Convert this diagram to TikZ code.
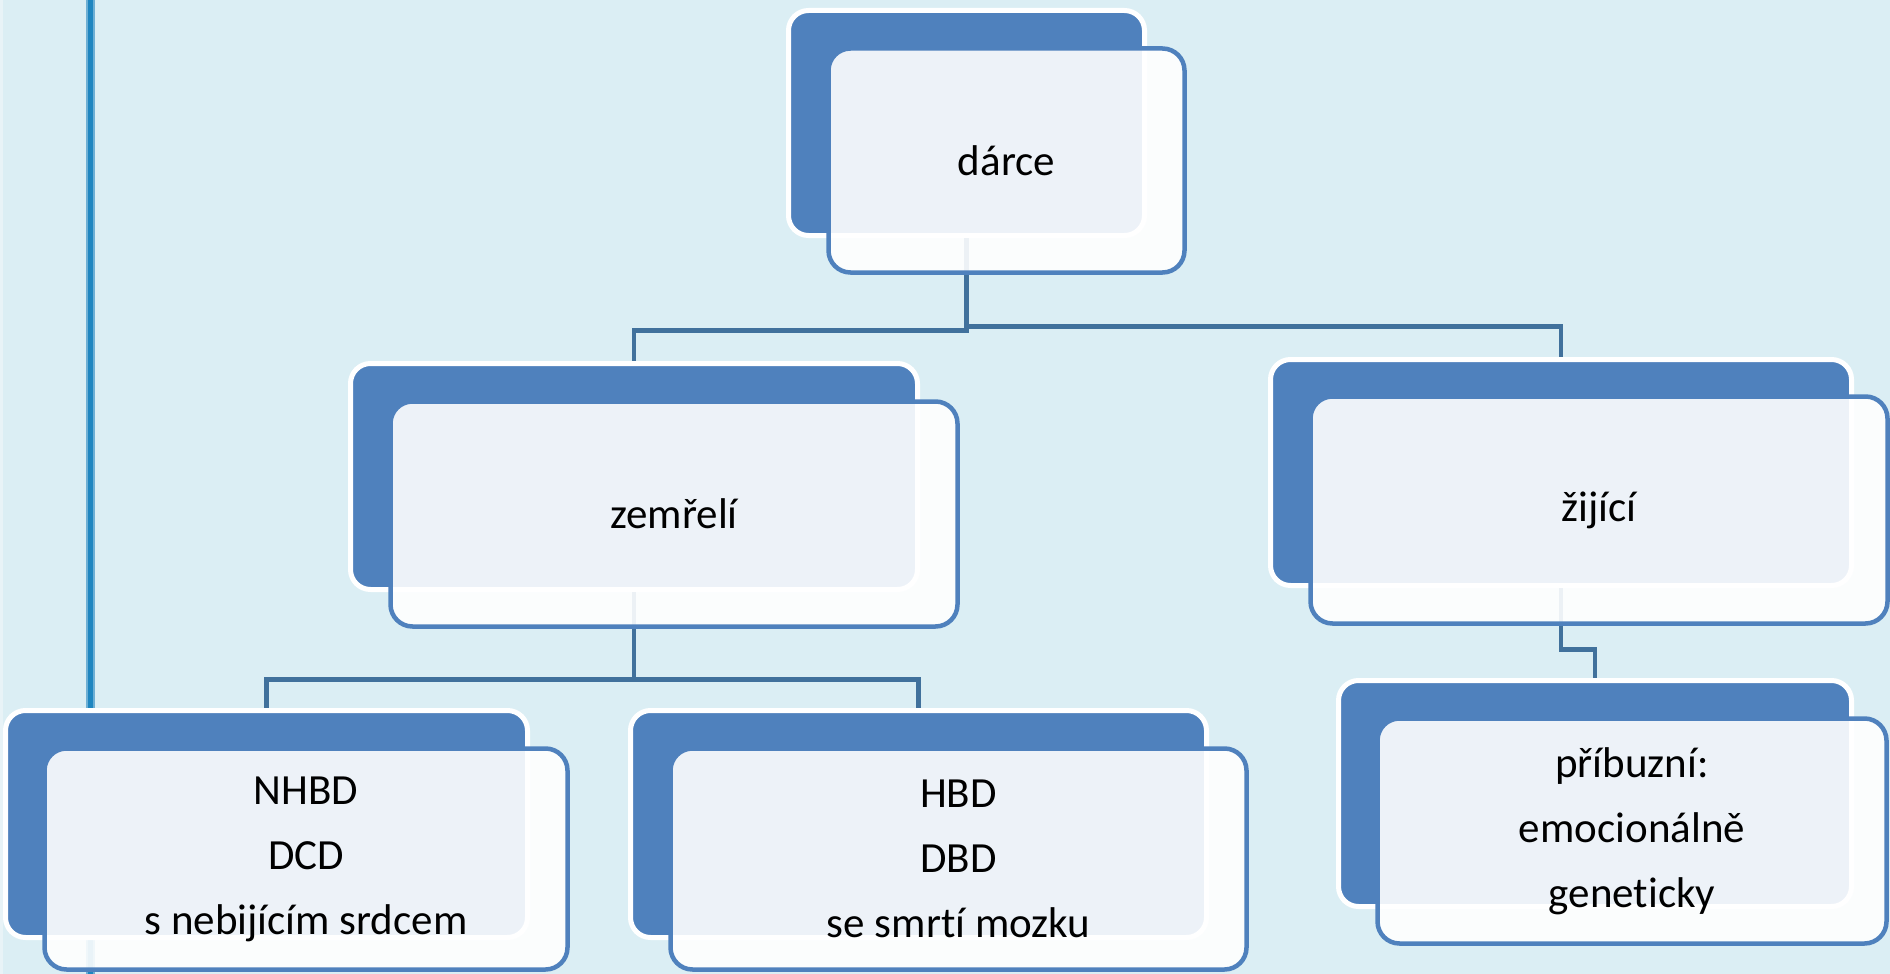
\documentclass[tikz,border=0pt]{standalone}
\usepackage{fontspec}
\setmainfont[Ligatures=NoCommon]{Carlito}
\definecolor{bgc}{RGB}{219,238,244}
\definecolor{bgedge}{RGB}{232,243,247}
\definecolor{dark}{RGB}{79,129,189}
\definecolor{conn}{RGB}{65,113,156}
\definecolor{rulecore}{RGB}{31,134,192}
\definecolor{ruleedge}{RGB}{110,175,212}
\tikzset{
  backbox/.style={rectangle, rounded corners=20pt, fill=dark, draw=white, line width=5pt, inner sep=0pt},
  frontbox/.style={rectangle, rounded corners=22pt, fill=white, fill opacity=0.9, draw opacity=1, text opacity=1,
    draw=dark, line width=4.5pt, inner sep=0pt, align=center, text=black, font=\fontsize{43}{65}\selectfont},
  link/.style={draw=conn, line width=4.5pt}
}
\begin{document}
\begin{tikzpicture}[x=1pt,y=-1pt]
\useasboundingbox (0,0) rectangle (1890,974);
\fill[bgc] (0,0) rectangle (1890,974);
\fill[bgedge] (0,0) rectangle (2.5,974);
% left rule
\coordinate (rtop) at (90,0);
\coordinate (rbot) at (90,974);
\draw[ruleedge, line width=9pt] (rtop) -- (rbot);
\draw[rulecore, line width=5pt] (rtop) -- (rbot);
% back boxes
\node[backbox, minimum width=356pt, minimum height=225pt] (bD) at (966.5,123) {};
\node[backbox, minimum width=567pt, minimum height=226pt] (bZ) at (634,476.5) {};
\node[backbox, minimum width=581pt, minimum height=226pt] (bL) at (1561,472.5) {};
\node[backbox, minimum width=522pt, minimum height=227pt] (bN) at (266.5,824) {};
\node[backbox, minimum width=576pt, minimum height=227pt] (bH) at (918.5,824) {};
\node[backbox, minimum width=513pt, minimum height=226pt] (bP) at (1595,793.5) {};
% connectors
\draw[link] (bD.south) -- ++(0,92.5) -| (bZ.north);
\draw[link] (bD.south) -- ++(0,88.5) -| (bL.north);
\draw[link] (bZ.south) -- ++(0,87.5) -| (bN.north);
\draw[link] (bZ.south) -- ++(0,87.5) -| (bH.north);
\draw[link] (bL.south) -- ++(0,61.5) -| (bP.north);
% front boxes
\node[frontbox, minimum width=356pt, minimum height=224pt] (fD) at (1006.5,160.5) {dárce};
\node[frontbox, minimum width=567pt, minimum height=225pt] (fZ) at (674,514) {zemřelí};
\node[frontbox, minimum width=577pt, minimum height=227pt] (fL) at (1599,510) {žijící};
\node[frontbox, minimum width=523pt, minimum height=221pt] (fN) at (306,859) {NHBD\\DCD\\s nebijícím srdcem};
\node[frontbox, minimum width=576pt, minimum height=221pt] (fH) at (958.5,859) {HBD\\DBD\\se smrtí mozku};
\node[frontbox, minimum width=509pt, minimum height=225pt] (fP) at (1632,831) {příbuzní:\\emocionálně\\geneticky};
\end{tikzpicture}
\end{document}
